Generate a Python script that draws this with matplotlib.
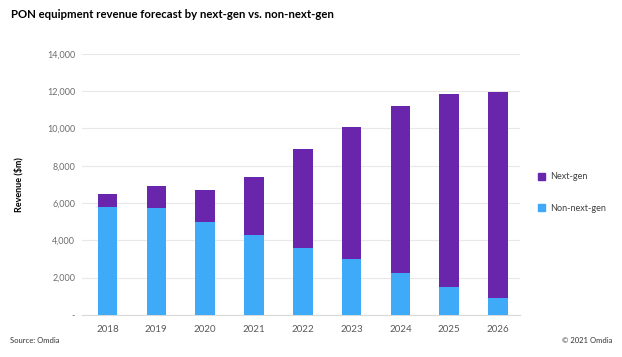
import matplotlib
matplotlib.use('Agg')
from matplotlib import pyplot as plt
from matplotlib.patches import Patch
import numpy as np

years = ['2018', '2019', '2020', '2021', '2022', '2023', '2024', '2025', '2026']
non_next_gen = [5780, 5720, 4990, 4310, 3610, 2990, 2270, 1520, 930]
total = [6475, 6940, 6720, 7370, 8900, 10100, 11200, 11840, 11950]
next_gen = [t - n for t, n in zip(total, non_next_gen)]

y_ticks = [0, 2000, 4000, 6000, 8000, 10000, 12000, 14000]
y_tick_labels = ['-', '2,000', '4,000', '6,000', '8,000', '10,000', '12,000', '14,000']

PURPLE = '#6a25ad'
BLUE = '#3eaaf8'

plt.rcParams['font.family'] = ['Lato', 'DejaVu Sans']

fig = plt.figure(figsize=(6.22, 3.57), dpi=100)
ax = fig.add_axes([0.132, 0.118, 0.704, 0.731])

x = np.arange(len(years))
ax.bar(x, non_next_gen, width=0.4, color=BLUE, zorder=3)
ax.bar(x, next_gen, width=0.4, bottom=non_next_gen, color=PURPLE, zorder=3)

ax.set_xlim(-0.52, 8.45)
ax.set_ylim(0, 14000)
ax.set_yticks(y_ticks)
ax.set_yticklabels(y_tick_labels)
ax.set_xticks(x)
ax.set_xticklabels(years)
ax.grid(axis='y', color='#e8e8e8', linewidth=0.8, zorder=0)
for s in ['top', 'right', 'left']:
    ax.spines[s].set_visible(False)
ax.spines['bottom'].set_color('#d9d9d9')
ax.tick_params(axis='y', length=0, labelsize=6.5, labelcolor='#6e6e6e', pad=5)
ax.tick_params(axis='x', length=0, labelsize=7, labelcolor='#595959', pad=7)

ax.set_ylabel('Revenue ($m)', fontsize=6.5, fontweight='bold', labelpad=17)

fig.text(0.018, 0.975, 'PON equipment revenue forecast by next-gen vs. non-next-gen',
         fontsize=8.2, fontweight='bold', va='top', ha='left')
fig.text(0.016, 0.045, 'Source: Omdia', fontsize=5.5, va='center', ha='left', color='#333333')
fig.text(0.984, 0.045, '\u00a9 2021 Omdia', fontsize=5.5, va='center', ha='right', color='#333333')

handles = [Patch(color=PURPLE, label='Next-gen'), Patch(color=BLUE, label='Non-next-gen')]
fig.legend(handles=handles, loc='upper left', bbox_to_anchor=(0.852, 0.54), frameon=False,
           fontsize=6.5, handlelength=0.8, handleheight=0.8, labelspacing=2.5,
           handletextpad=0.5, labelcolor='#404040')

fig.savefig('out.png', dpi=100)
